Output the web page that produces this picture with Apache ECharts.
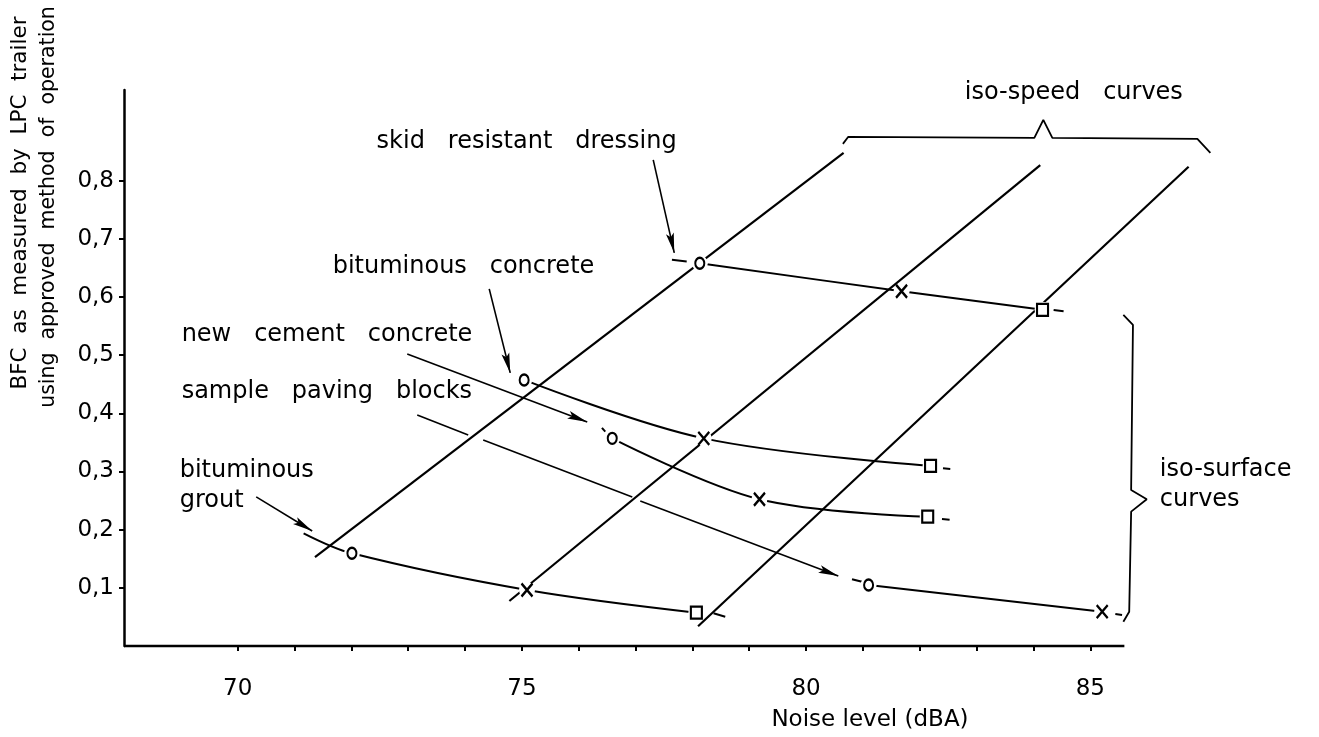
<!DOCTYPE html>
<html>
<head>
<meta charset="utf-8">
<title>BFC versus noise level</title>
<script src="https://cdn.jsdelivr.net/npm/echarts@6/dist/echarts.min.js"></script>
<style>
  html, body { margin: 0; padding: 0; background: #ffffff; }
  #chart { width: 1319px; height: 737px; }
</style>
</head>
<body>
<div id="chart"></div>
<script>
// ---- axes ----
const xTickValues = [70, 71, 72, 73, 74, 75, 76, 77, 78, 79, 80, 81, 82, 83, 84, 85];
const xLabelValues = [70, 75, 80, 85];
const yTickValues = [0.1, 0.2, 0.3, 0.4, 0.5, 0.6, 0.7, 0.8];
const xAxisLine = [[68, 0], [85.6, 0]];

// ---- iso-surface curves: [noise dBA, BFC] at speed 1 (o), speed 2 (x), speed 3 (square) ----
const skidResistantDressing = [[78.13, 0.658], [81.68, 0.610], [84.16, 0.578]];
const bituminousConcrete    = [[75.04, 0.4575], [78.20, 0.357], [82.19, 0.3096]];
const newCementConcrete     = [[76.59, 0.357], [79.18, 0.2523], [82.14, 0.2224]];
const samplePavingBlocks    = [[81.10, 0.105], [85.21, 0.059]];
const bituminousGrout       = [[72.01, 0.1594], [75.09, 0.0963], [78.07, 0.0573]];
const groutLeadIn           = [71.16, 0.1938];

// short stubs continuing the curves beyond their end marks
const curveStubs = [
  [[77.64, 0.664], [77.90, 0.6613]],
  [[84.355, 0.5779], [84.531, 0.5757]],
  [[82.409, 0.3056], [82.537, 0.3044]],
  [[76.409, 0.375], [76.467, 0.3686]],
  [[82.391, 0.2184], [82.525, 0.2172]],
  [[80.808, 0.1147], [80.984, 0.1106]],
  [[85.441, 0.0550], [85.559, 0.0533]],
  [[78.372, 0.0562], [78.578, 0.0504]]
];

// ---- iso-speed lines ----
const isoSpeed1 = [[71.36, 0.153], [80.66, 0.848]];
const isoSpeed2 = [[74.78, 0.0774], [84.12, 0.827]];
const isoSpeed3 = [[78.10, 0.034], [86.73, 0.824]];

// ---- leader arrows from the surface names ----
const arrowLeaders = [
  [[77.311, 0.8359], [77.681, 0.6760]],
  [[74.425, 0.6140], [74.795, 0.4696]],
  [[72.983, 0.5022], [76.150, 0.3853]],
  [[77.083, 0.2494], [80.567, 0.1204]],
  [[70.326, 0.2563], [71.311, 0.1978]]
];
// broken part of the "sample paving blocks" leader
const plainLeaders = [
  [[73.159, 0.3973], [74.056, 0.3629]],
  [[74.320, 0.3543], [76.942, 0.2563]]
];

// ---- braces ----
const speedBrace = [[80.648, 0.8634], [80.743, 0.8755], [84.016, 0.8738], [84.174, 0.9047],
                    [84.333, 0.8738], [86.884, 0.8720], [87.113, 0.8480]];
const surfaceBrace = [[85.582, 0.5693], [85.751, 0.5521], [85.719, 0.2683], [85.994, 0.2523],
                      [85.719, 0.2310], [85.685, 0.0590], [85.582, 0.0418]];

// ---- annotation texts, anchored at their left-middle point ----
const annotations = [
  { text: 'skid   resistant   dressing', at: [72.453, 0.8669] },
  { text: 'bituminous   concrete',       at: [71.680, 0.6519] },
  { text: 'new   cement   concrete',     at: [69.023, 0.5349] },
  { text: 'sample   paving   blocks',    at: [69.023, 0.4369] },
  { text: 'bituminous\ngrout',           at: [68.988, 0.2752] },
  { text: 'iso-speed   curves',          at: [82.801, 0.9511] },
  { text: 'iso-surface\ncurves',         at: [86.233, 0.2769] }
];

const FONT = 'DejaVu Sans';
const INK = '#000000';
const ARROW = 'path://M0,0M40,40M20,20L24,40L20,36L16,40Z';

const surfaceCurves = [
  skidResistantDressing, bituminousConcrete, newCementConcrete,
  samplePavingBlocks, [groutLeadIn].concat(bituminousGrout)
];
const allCurves = [skidResistantDressing, bituminousConcrete, newCementConcrete, samplePavingBlocks, bituminousGrout];
const speed1Marks = allCurves.map(c => c[0]);
const speed2Marks = allCurves.map(c => c[1]);
const speed3Marks = allCurves.filter(c => c.length > 2).map(c => c[2]);
const allMarks = speed1Marks.concat(speed2Marks, speed3Marks);

function curveSeries(data, z, extra) {
  return Object.assign({
    type: 'line', data: data, showSymbol: false, symbol: 'none', clip: false,
    silent: true, z: z, lineStyle: { color: INK, width: 2 }
  }, extra || {});
}

const series = [];
series.push(curveSeries(xAxisLine, 2, { lineStyle: { color: INK, width: 2.5 } }));
[isoSpeed1, isoSpeed2, isoSpeed3].forEach(l => series.push(curveSeries(l, 2, { lineStyle: { color: INK, width: 2.2 } })));
surfaceCurves.forEach(c => series.push(curveSeries(c, 2, { smooth: 0.35 })));
series.push(curveSeries(speedBrace, 2, { lineStyle: { color: INK, width: 1.8 } }));
series.push(curveSeries(surfaceBrace, 2, { lineStyle: { color: INK, width: 1.8 } }));

series.push({
  type: 'lines', coordinateSystem: 'cartesian2d', z: 2, silent: true, clip: false,
  symbol: ['none', 'none'],
  lineStyle: { color: INK, width: 2, opacity: 1 },
  data: curveStubs.map(c => ({ coords: c }))
});
series.push({
  type: 'lines', coordinateSystem: 'cartesian2d', z: 5, silent: true,
  symbol: ['none', 'none'],
  lineStyle: { color: INK, width: 1.6, opacity: 1 },
  data: plainLeaders.map(c => ({ coords: c }))
});
series.push({
  type: 'lines', coordinateSystem: 'cartesian2d', z: 5, silent: true,
  symbol: ['none', ARROW], symbolSize: 40,
  lineStyle: { color: INK, width: 1.6, opacity: 1 },
  data: arrowLeaders.map(c => ({ coords: c }))
});

// white gaps around the marks where the curves meet them
series.push({
  type: 'scatter', z: 3, silent: true, clip: false, data: allMarks,
  symbol: 'circle', symbolSize: 16, itemStyle: { color: '#ffffff', opacity: 1 }
});
series.push({
  type: 'scatter', z: 4, silent: true, clip: false, data: speed1Marks,
  symbol: 'circle', symbolSize: [9, 11],
  itemStyle: { color: '#ffffff', borderColor: INK, borderWidth: 2.2, opacity: 1 }
});
series.push({
  type: 'scatter', z: 4, silent: true, clip: false, data: speed2Marks,
  symbol: 'path://M0,0L10,12M10,0L0,12', symbolSize: [11, 13],
  itemStyle: { color: 'rgba(0,0,0,0)', borderColor: INK, borderWidth: 2.4, opacity: 1 }
});
series.push({
  type: 'scatter', z: 4, silent: true, clip: false, data: speed3Marks,
  symbol: 'rect', symbolSize: [11, 12],
  itemStyle: { color: '#ffffff', borderColor: INK, borderWidth: 2.2, opacity: 1 }
});

series.push({
  type: 'scatter', z: 6, silent: true, clip: false,
  symbol: 'circle', symbolSize: 1, itemStyle: { color: '#ffffff', opacity: 1 },
  data: annotations.map(a => ({ value: a.at, label: { formatter: a.text } })),
  label: {
    show: true, position: [0, 0], align: 'left', verticalAlign: 'middle',
    color: INK, opacity: 1, textBorderWidth: 0, fontFamily: FONT, fontSize: 24, lineHeight: 30
  }
});

const option = {
  backgroundColor: '#ffffff',
  animation: false,
  grid: { left: 124, right: 98, top: 90, bottom: 91, containLabel: false },
  xAxis: {
    type: 'value', min: 68, max: 87.3,
    axisLine: { show: false },
    axisTick: { show: true, customValues: xTickValues, length: 5, lineStyle: { color: INK, width: 2 } },
    axisLabel: { show: true, customValues: xLabelValues, margin: 32, color: INK, fontFamily: FONT, fontSize: 23 },
    splitLine: { show: false }
  },
  yAxis: {
    type: 'value', min: 0, max: 0.956,
    axisLine: { show: true, lineStyle: { color: INK, width: 2.5 } },
    axisTick: { show: true, customValues: yTickValues, length: 5, lineStyle: { color: INK, width: 2 } },
    axisLabel: {
      show: true, customValues: yTickValues, margin: 10, color: INK, fontFamily: FONT, fontSize: 23,
      formatter: v => v.toFixed(1).replace('.', ',')
    },
    splitLine: { show: false }
  },
  graphic: [
    { type: 'text', x: 20, y: 203, rotation: Math.PI / 2, silent: true,
      style: { text: 'BFC  as  measured  by  LPC  trailer', fill: INK, fontFamily: FONT, fontSize: 21.5,
               align: 'center', verticalAlign: 'middle' } },
    { type: 'text', x: 49, y: 207, rotation: Math.PI / 2, silent: true,
      style: { text: 'using  approved  method  of  operation', fill: INK, fontFamily: FONT, fontSize: 20.5,
               align: 'center', verticalAlign: 'middle' } },
    { type: 'text', x: 870, y: 720, silent: true,
      style: { text: 'Noise level (dBA)', fill: INK, fontFamily: FONT, fontSize: 23,
               align: 'center', verticalAlign: 'middle' } }
  ],
  series: series
};

const chart = echarts.init(document.getElementById('chart'), null, { renderer: 'canvas' });
chart.setOption(option);
</script>
</body>
</html>
